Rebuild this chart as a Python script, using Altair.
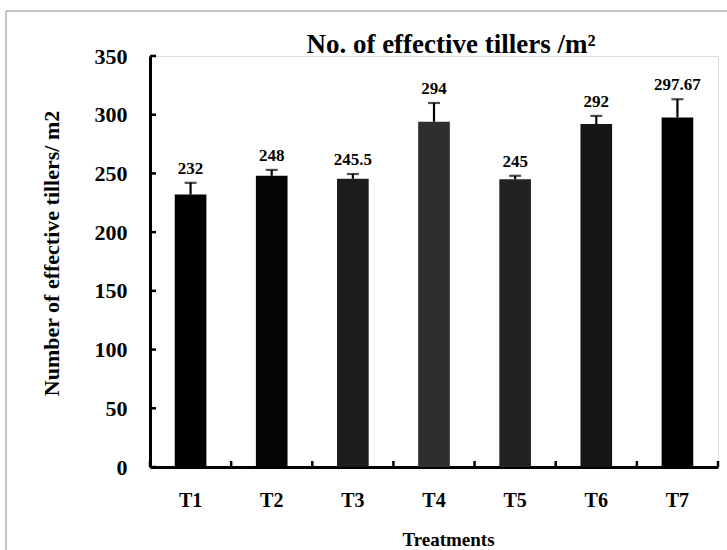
import altair as alt
import pandas as pd

treatments = ["T1", "T2", "T3", "T4", "T5", "T6", "T7"]
tillers = [232, 248, 245.5, 294, 245, 292, 297.67]
errors = [10, 5, 4, 16, 3, 7, 15.5]
value_labels = ["232", "248", "245.5", "294", "245", "292", "297.67"]
bar_colors = ["#000000", "#050505", "#1c1c1c", "#2e2e2e", "#222222", "#161616", "#000000"]
y_ticks = [0, 50, 100, 150, 200, 250, 300, 350]
chart_title = "No. of effective tillers /m²"

df = pd.DataFrame({
    "Treatment": treatments,
    "Tillers": tillers,
    "Top": [v + e for v, e in zip(tillers, errors)],
    "Label": value_labels,
})
tick_df = pd.DataFrame({"tick": y_ticks})

FONT = "Liberation Serif"
W, H = 568, 411

x_enc = alt.X(
    "Treatment:N",
    sort=treatments,
    scale=alt.Scale(paddingInner=0, paddingOuter=0),
    axis=alt.Axis(
        title="Treatments", labelAngle=0, ticks=False, labelPadding=23,
        labelFont=FONT, labelFontSize=20, labelFontWeight="bold", labelColor="black",
        domainColor="black", domainWidth=3,
        titleFont=FONT, titleFontSize=19, titleFontWeight="bold", titleColor="black",
        titleX=298, titleY=72, titleBaseline="middle", titleAlign="center",
    ),
)

y_scale = alt.Scale(domain=[0, 350], nice=False)

bars = alt.Chart(df).mark_bar(width={"band": 0.39}).encode(
    x=x_enc,
    y=alt.Y(
        "Tillers:Q", scale=y_scale,
        axis=alt.Axis(
            title="Number of effective tillers/ m2", values=y_ticks, ticks=False,
            labelPadding=23, grid=False,
            labelFont=FONT, labelFontSize=22, labelFontWeight="bold", labelColor="black",
            domainColor="black", domainWidth=3,
            titleFont=FONT, titleFontSize=22, titleFontWeight="bold", titleColor="black",
            titleX=-99, titleY=197, titleAngle=-90, titleBaseline="middle", titleAlign="center",
        ),
    ),
    color=alt.Color("Treatment:N", scale=alt.Scale(domain=treatments, range=bar_colors), legend=None),
)

err_line = alt.Chart(df).mark_rule(color="black", strokeWidth=2.2).encode(
    x=alt.X("Treatment:N", sort=treatments),
    y=alt.Y("Tillers:Q", scale=y_scale),
    y2="Top:Q",
)
err_cap = alt.Chart(df).mark_tick(color="black", size=12, thickness=2.2).encode(
    x=alt.X("Treatment:N", sort=treatments),
    y=alt.Y("Top:Q", scale=y_scale),
)
labels = alt.Chart(df).mark_text(
    font=FONT, fontSize=17, fontWeight="bold", color="black", baseline="bottom", dy=-5
).encode(
    x=alt.X("Treatment:N", sort=treatments),
    y=alt.Y("Top:Q", scale=y_scale),
    text="Label:N",
)

y_inner_ticks = alt.Chart(tick_df).mark_rule(color="black", strokeWidth=2.5).encode(
    y=alt.Y("tick:Q", scale=y_scale),
    x=alt.value(0),
    x2=alt.value(6),
)
x_inner_ticks = alt.Chart(df).mark_rule(color="black", strokeWidth=2.5).encode(
    x=alt.X("Treatment:N", sort=treatments, bandPosition=0),
    y=alt.value(H),
    y2=alt.value(H - 6),
)
x_end_tick = alt.Chart(alt.Data(values=[{}])).mark_rule(color="black", strokeWidth=2.5).encode(
    x=alt.value(W), y=alt.value(H), y2=alt.value(H - 6)
)
frame = alt.Chart(alt.Data(values=[{}])).mark_rect(
    fill=None, stroke="#8a8a8a", strokeWidth=1
).encode(
    x=alt.value(-144), x2=alt.value(W + 30), y=alt.value(-45), y2=alt.value(H + 100)
)
title_text = alt.Chart(alt.Data(values=[{"t": chart_title}])).mark_text(
    font=FONT, fontSize=27, fontWeight="bold", color="black", baseline="alphabetic", align="center"
).encode(
    x=alt.value(301), y=alt.value(-3), text="t:N"
)

chart = alt.layer(
    frame, bars, err_line, err_cap, labels, y_inner_ticks, x_inner_ticks, x_end_tick, title_text
).properties(
    width=W, height=H,
    padding={"left": 150, "top": 56, "right": 9, "bottom": 83},
    autosize=alt.AutoSizeParams(type="none"),
).configure_view(stroke=None).configure(background="white")

chart.save("out.html", embed_options={"renderer": "svg", "actions": False})
